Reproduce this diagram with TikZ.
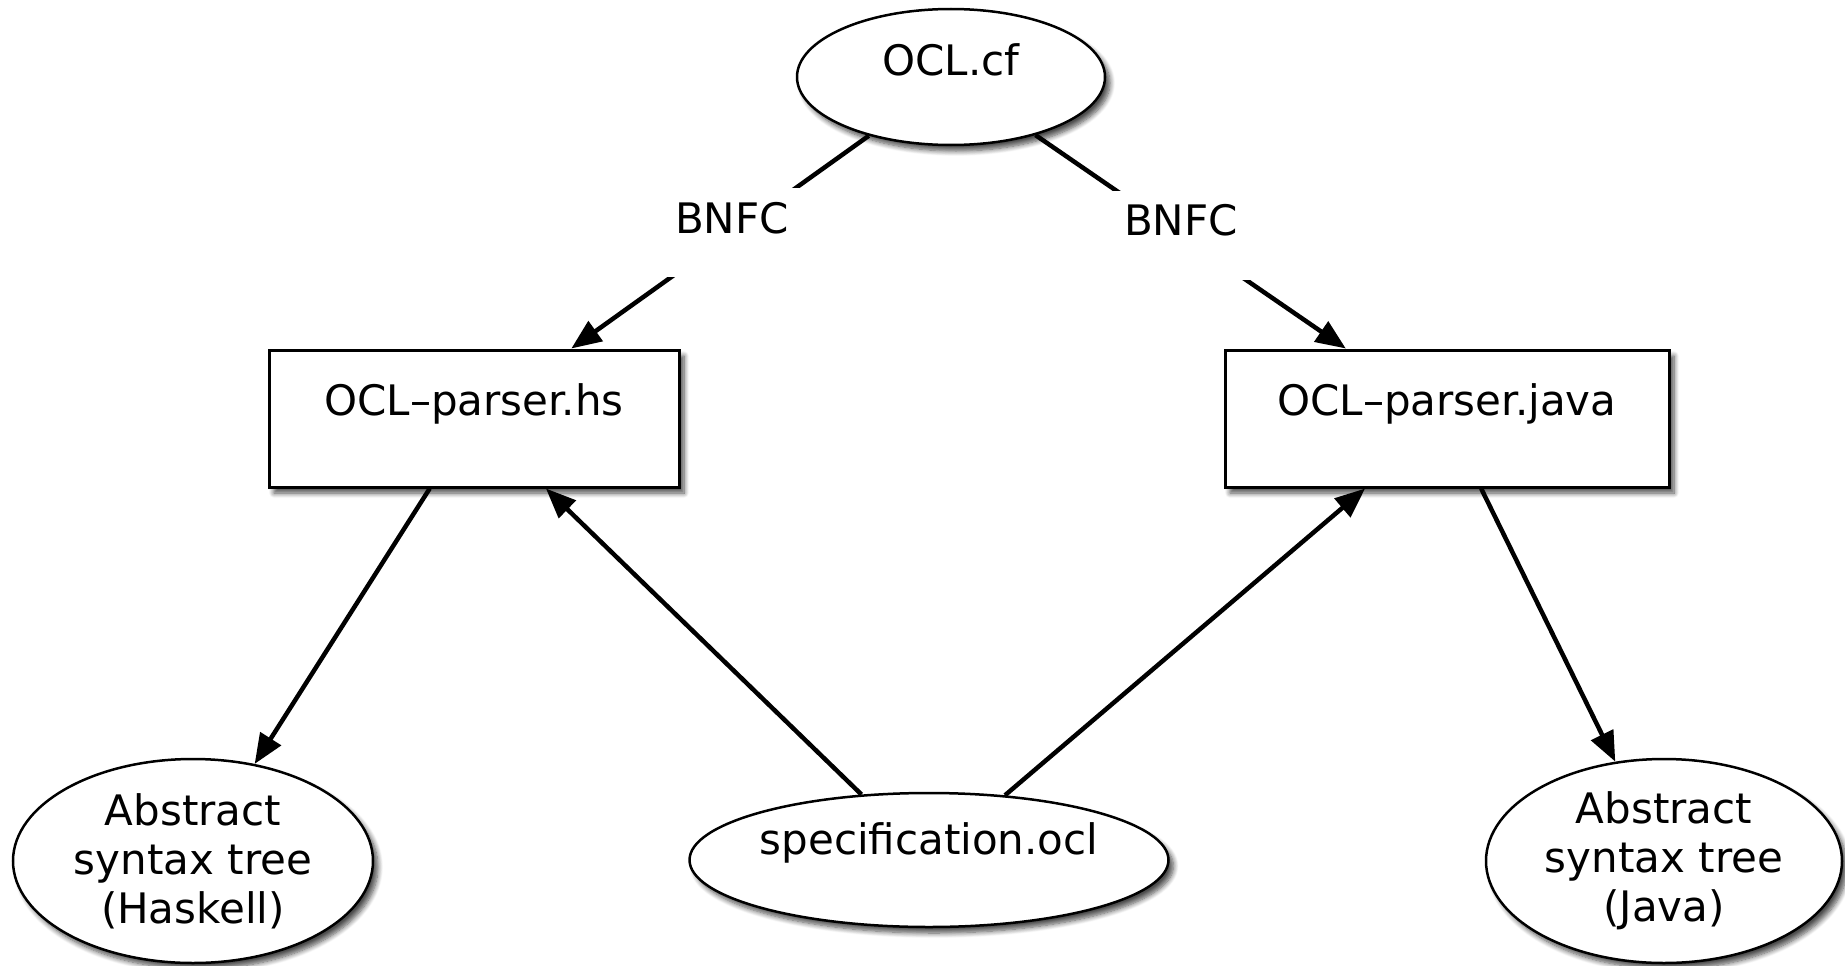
\documentclass[tikz,border=0pt]{standalone}
\usepackage{fontspec}
\setmainfont{DejaVu Sans}
\usetikzlibrary{arrows.meta,shapes.geometric,shadows.blur}
\begin{document}
\begin{tikzpicture}[x=1pt,y=-1pt,
  every node/.style={font=\fontsize{42pt}{49pt}\selectfont},
  softshadow/.style={blur shadow={shadow xshift=5pt, shadow yshift=-6pt,
      shadow blur radius=5pt, shadow blur steps=8, shadow opacity=70}},
  filebox/.style={draw, rectangle, line width=3pt, fill=white, inner sep=0pt, softshadow},
  oval/.style={draw, ellipse, line width=2.5pt, fill=white, inner sep=0pt, softshadow},
  conn/.style={line width=4.5pt, -{Triangle[length=30pt,width=24pt]}},
  toollabel/.style={fill=white, inner sep=0pt, minimum width=140pt, anchor=base}]
\useasboundingbox (0,0) rectangle (1845,966);

% grammar file
\node[oval, minimum width=308pt, minimum height=136pt,
      text height=30pt, text depth=34pt] (cf) at (951,77) {OCL.cf};

% generated parsers
\node[filebox, minimum width=410pt, text height=65pt, text depth=72pt]
  (hs) at (474,418.5) {OCL–parser.hs};
\node[filebox, minimum width=444pt, text height=65pt, text depth=72pt]
  (java) at (1447,418.5) {OCL–parser.java};

% input specification
\node[oval, minimum width=478pt, minimum height=134pt,
      text height=30pt, text depth=42pt] (spec) at (929,860) {specification.ocl};

% resulting syntax trees
\node[oval, minimum width=360pt, minimum height=204pt, align=center]
  (asth) at (193,861) {Abstract\\syntax tree\\(Haskell)};
\node[oval, minimum width=356pt, minimum height=204pt, align=center]
  (astj) at (1664,861) {Abstract\\syntax tree\\(Java)};

% connectors
\draw[conn] (cf) -- (hs);
\draw[conn] (cf) -- (java);
\draw[conn] (hs) -- (asth);
\draw[conn] (java) -- (astj);
\draw[conn] (spec) -- (hs);
\draw[conn] (spec) -- (java);

% tool labels interrupting the generator arrows
\node[toollabel, text height=45pt, text depth=44pt] (bnfcl) at (732,233) {BNFC};
\node[toollabel, text height=44pt, text depth=45pt] (bnfcr) at (1181,235) {BNFC};
\end{tikzpicture}
\end{document}
